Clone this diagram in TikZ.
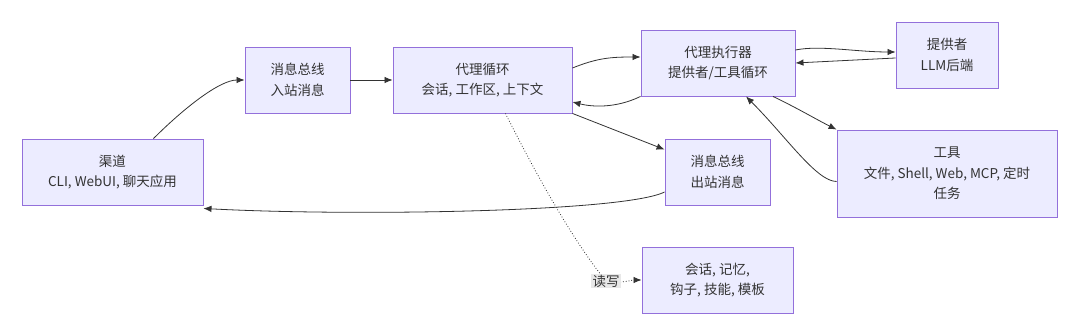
\documentclass[tikz,border=0pt]{standalone}
\usepackage{fontspec}
\setmainfont{Noto Sans CJK SC}
\usetikzlibrary{arrows.meta}
\definecolor{boxfill}{HTML}{ECECFF}
\definecolor{boxline}{HTML}{9370DB}
\definecolor{ink}{HTML}{333333}
\definecolor{lblbg}{HTML}{E8E8E8}
\tikzset{
  box/.style={draw=boxline, fill=boxfill, line width=0.9pt, inner sep=0pt,
    minimum height=66pt, align=center, text=ink,
    font=\fontsize{13.5pt}{20.5pt}\selectfont},
  edge/.style={draw=ink, line width=0.8pt, -{Latex[length=8pt,width=6.5pt]}},
  lbl/.style={fill=lblbg, text=ink, inner sep=1.2pt,
    font=\fontsize{13.5pt}{16pt}\selectfont}
}
\begin{document}
\begin{tikzpicture}[x=1pt,y=-1pt]
\useasboundingbox (0,0) rectangle (1080,336);
\node[box, minimum width=181pt] (qd) at (112.5,172) {渠道\\CLI, WebUI, 聊天应用};
\node[box, minimum width=105pt] (in) at (297.5,80) {消息总线\\入站消息};
\node[box, minimum width=179pt] (loop) at (482.5,80) {代理循环\\会话, 工作区, 上下文};
\node[box, minimum width=154pt] (exec) at (718,63) {代理执行器\\提供者/工具循环};
\node[box, minimum width=102pt] (prov) at (947,55) {提供者\\LLM后端};
\node[box, minimum width=105pt] (out) at (717.5,172) {消息总线\\出站消息};
\node[box, minimum width=220pt, minimum height=87pt] (tools) at (947,173.5) {工具\\文件, Shell, Web, MCP, 定时\\任务};
\node[box, minimum width=151pt] (mem) at (717.5,280) {会话, 记忆,\\钩子, 技能, 模板};

\draw[edge] ([xshift=41pt]qd.north) .. controls +(30,-30) and +(-25,0) .. (in.west);
\draw[edge] (in.east) -- (loop.west);
\draw[edge] ([yshift=12pt]loop.east) .. controls +(25,-10) and +(-30,0) .. ([yshift=6pt]exec.west);
\draw[edge] (exec.south west) .. controls +(-25,12) and +(20,5) .. ([yshift=-22pt]loop.east);
\draw[edge] (loop.south east) -- ([yshift=-11pt]out.north west);
\draw[edge] ([yshift=-20pt]out.west) .. controls +(-40,20) and +(150,8) .. ([yshift=-3pt]qd.south east);
\draw[edge] ([yshift=13pt]exec.east) .. controls +(25,-5) and +(-40,0) .. ([yshift=3pt]prov.west);
\draw[edge] ([yshift=-3pt]prov.west) -- (exec.east);
\draw[edge] ([xshift=55pt]exec.south) .. controls +(25,12) and +(-20,-10) .. (tools.north west);
\draw[edge] ([yshift=-8pt]tools.west) .. controls +(-20,0) and +(40,40) .. ([xshift=28pt]exec.south);

\coordinate (rwc) at (606,281);
\draw[edge, dotted] ([xshift=23pt]loop.south) .. controls +(40,80) and +(-25,-30) .. (rwc) .. controls +(15,3) and +(-10,0) .. (mem.west);
\node[lbl] (rw) at (rwc) {读写};
\end{tikzpicture}
\end{document}
